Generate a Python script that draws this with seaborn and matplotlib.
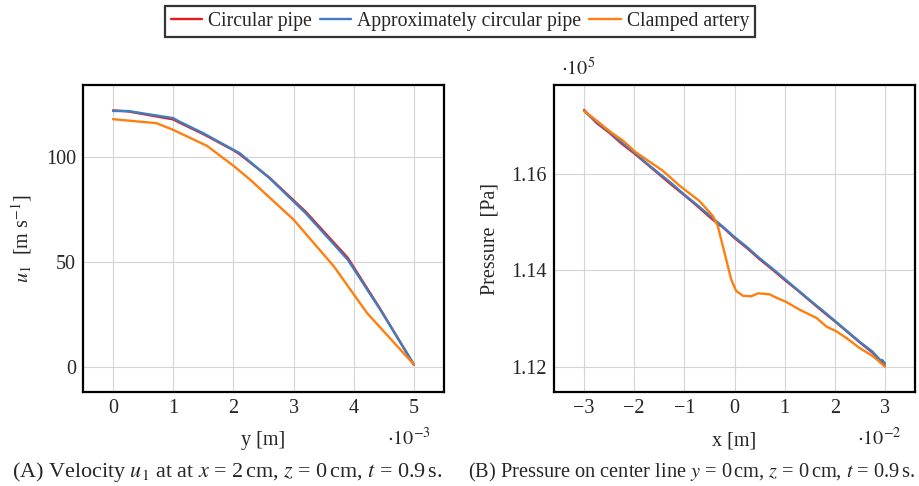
import numpy as np
import pandas as pd
import matplotlib
matplotlib.use("Agg")
import matplotlib.pyplot as plt
import seaborn as sns

# --- (A) velocity profile, y in units of 1e-3 m, u1 in m/s
y_circ = [0, 0.25, 1.0, 1.1, 1.5, 2.0, 2.1, 2.6, 3.2, 3.9, 4.44, 5.0]
u_circ = [122.3, 121.8, 118.0, 116.5, 111.0, 103.3, 101.5, 90.2, 74.0, 52.0, 27.6, 1.0]
y_approx = [0, 0.25, 1.0, 1.1, 1.5, 2.0, 2.1, 2.6, 3.2, 3.9, 4.44, 5.0]
u_approx = [122.0, 122.0, 118.6, 117.0, 111.4, 103.5, 102.0, 90.0, 73.3, 51.1, 27.3, 1.1]
y_clamp = [0, 0.72, 1.0, 1.56, 2.0, 2.28, 3.0, 3.67, 4.22, 5.0]
u_clamp = [118.1, 116.2, 113.0, 105.4, 95.9, 89.2, 70.2, 47.9, 25.7, 1.1]

# --- (B) pressure on center line, x in units of 1e-2 m, p in units of 1e5 Pa
x_circ = [-3.0, -2.9, -2.75, -2.5, -2.25, -2.0, -1.75, -1.5, -1.25, -1.0, -0.75, -0.5, -0.3,
          -0.25, 0.0, 0.25, 0.5, 0.75, 1.0, 1.25, 1.5, 1.75, 2.0, 2.25, 2.5, 2.75, 3.0]
p_circ = [1.1733, 1.1722, 1.1706, 1.1686, 1.1663, 1.1643, 1.1621, 1.1599, 1.1577, 1.1556,
          1.1534, 1.1511, 1.1494, 1.1491, 1.1467, 1.1446, 1.1423, 1.1402, 1.1380, 1.1359,
          1.1337, 1.1315, 1.1294, 1.1272, 1.1250, 1.1229, 1.1201]
x_approx = [-3.0, -2.75, -2.5, -2.25, -2.0, -1.75, -1.5, -1.25, -1.0, -0.75, -0.5, -0.25, 0.0,
            0.25, 0.5, 0.75, 1.0, 1.25, 1.5, 1.75, 2.0, 2.25, 2.5, 2.75, 2.9, 2.95, 3.0]
p_approx = [1.1731, 1.1708, 1.1688, 1.1666, 1.1645, 1.1622, 1.1601, 1.1580, 1.1557, 1.1536,
            1.1514, 1.1492, 1.1469, 1.1448, 1.1425, 1.1404, 1.1382, 1.1360, 1.1338, 1.1317,
            1.1295, 1.1273, 1.1251, 1.1231, 1.1214, 1.1213, 1.1206]
x_clamp = [-3.0, -2.8, -2.467, -2.233, -1.967, -1.433, -1.1, -0.7, -0.433, -0.333, -0.267,
           -0.167, -0.067, 0.033, 0.167, 0.333, 0.467, 0.6, 0.7, 0.833, 1.033, 1.3, 1.633,
           1.833, 2.033, 2.233, 2.5, 2.767, 3.0]
p_clamp = [1.1731, 1.1715, 1.1687, 1.1670, 1.1645, 1.1607, 1.1576, 1.1544, 1.1513, 1.1492,
           1.1464, 1.1423, 1.1381, 1.1357, 1.1347, 1.1346, 1.1352, 1.1351, 1.1350, 1.1343,
           1.1334, 1.1318, 1.1301, 1.1283, 1.1273, 1.1259, 1.1238, 1.1221, 1.1200]

labels = ["Circular pipe", "Approximately circular pipe", "Clamped artery"]
colors = ["#e41a1c", "#3f7fbf", "#ff7f0e"]

sns.set_style("white")
plt.rcParams["font.family"] = ["Liberation Serif", "DejaVu Serif"]
plt.rcParams["mathtext.fontset"] = "stix"
fs = 14.5

fig = plt.figure(figsize=(9.2, 4.86), dpi=100)
ax1 = fig.add_axes([0.0902, 0.1934, 0.3924, 0.6317])
ax2 = fig.add_axes([0.6022, 0.1934, 0.3924, 0.6317])

for xs, ys, c, lab in zip([y_circ, y_approx, y_clamp], [u_circ, u_approx, u_clamp], colors, labels):
    sns.lineplot(x=xs, y=ys, ax=ax1, color=c, lw=1.7, sort=False, label=lab, legend=False)
for xs, ys, c, lab in zip([x_circ, x_approx, x_clamp], [p_circ, p_approx, p_clamp], colors, labels):
    sns.lineplot(x=xs, y=ys, ax=ax2, color=c, lw=1.7, sort=False, legend=False)

ax1.set_xlim(-0.5, 5.5)
ax1.set_ylim(-12, 134.4)
ax1.set_xticks([0, 1, 2, 3, 4, 5])
ax1.set_yticks([0, 50, 100])
ax2.set_xlim(-3.6, 3.6)
ax2.set_ylim(1.1147, 1.1785)
ax2.set_xticks([-3, -2, -1, 0, 1, 2, 3])
ax2.set_yticks([1.12, 1.14, 1.16])
ax2.set_xticklabels(["\u22123", "\u22122", "\u22121", "0", "1", "2", "3"])
ax2.set_yticklabels(["1.12", "1.14", "1.16"])

for ax in (ax1, ax2):
    ax.grid(True, color="#d4d4d4", lw=0.8)
    ax.tick_params(length=0, labelsize=fs, pad=5)
    for s in ax.spines.values():
        s.set_color("black")
        s.set_linewidth(1.6)
    ax.set_axisbelow(True)

ax1.set_xlabel("y [m]", fontsize=fs)
ax1.set_ylabel("$u_1$  [m s$^{-1}$]", fontsize=fs)
ax2.set_xlabel("x [m]", fontsize=fs)
ax2.set_ylabel("Pressure  [Pa]", fontsize=fs)
ax1.xaxis.set_label_coords(0.5, -0.158)
ax2.xaxis.set_label_coords(0.5, -0.158)
ax1.yaxis.set_label_coords(-0.169, 0.5)
ax2.yaxis.set_label_coords(-0.177, 0.5)
for ax in (ax1, ax2):
    ax.xaxis.label.set_verticalalignment("center")
    ax.yaxis.label.set_verticalalignment("center")

fig.text(0.421, 0.097, r"$\cdot 10^{-3}$", fontsize=fs, ha="left", va="center")
fig.text(0.931, 0.097, r"$\cdot 10^{-2}$", fontsize=fs, ha="left", va="center")
fig.text(0.610, 0.858, r"$\cdot 10^{5}$", fontsize=fs, ha="left", va="center")

fig.text(0.247, 0.028, r"(A) Velocity $u_1$ at at $x$ = 2$\,$cm, $z$ = 0$\,$cm, $t$ = 0.9$\,$s.",
         fontsize=15.9, ha="center", va="center")
fig.text(0.7516, 0.028, r"(B) Pressure on center line $y$ = 0$\,$cm, $z$ = 0$\,$cm, $t$ = 0.9$\,$s.",
         fontsize=14.7, ha="center", va="center")

h, l = ax1.get_legend_handles_labels()
leg = fig.legend(h, l, loc="center", bbox_to_anchor=(0.5, 0.956), ncol=3, fontsize=14.2,
                 frameon=True, fancybox=False, edgecolor="black", handlelength=1.6,
                 handletextpad=0.3, columnspacing=0.4, borderpad=0.3)
leg.get_frame().set_linewidth(1.6)

fig.savefig("out.png", dpi=100)
